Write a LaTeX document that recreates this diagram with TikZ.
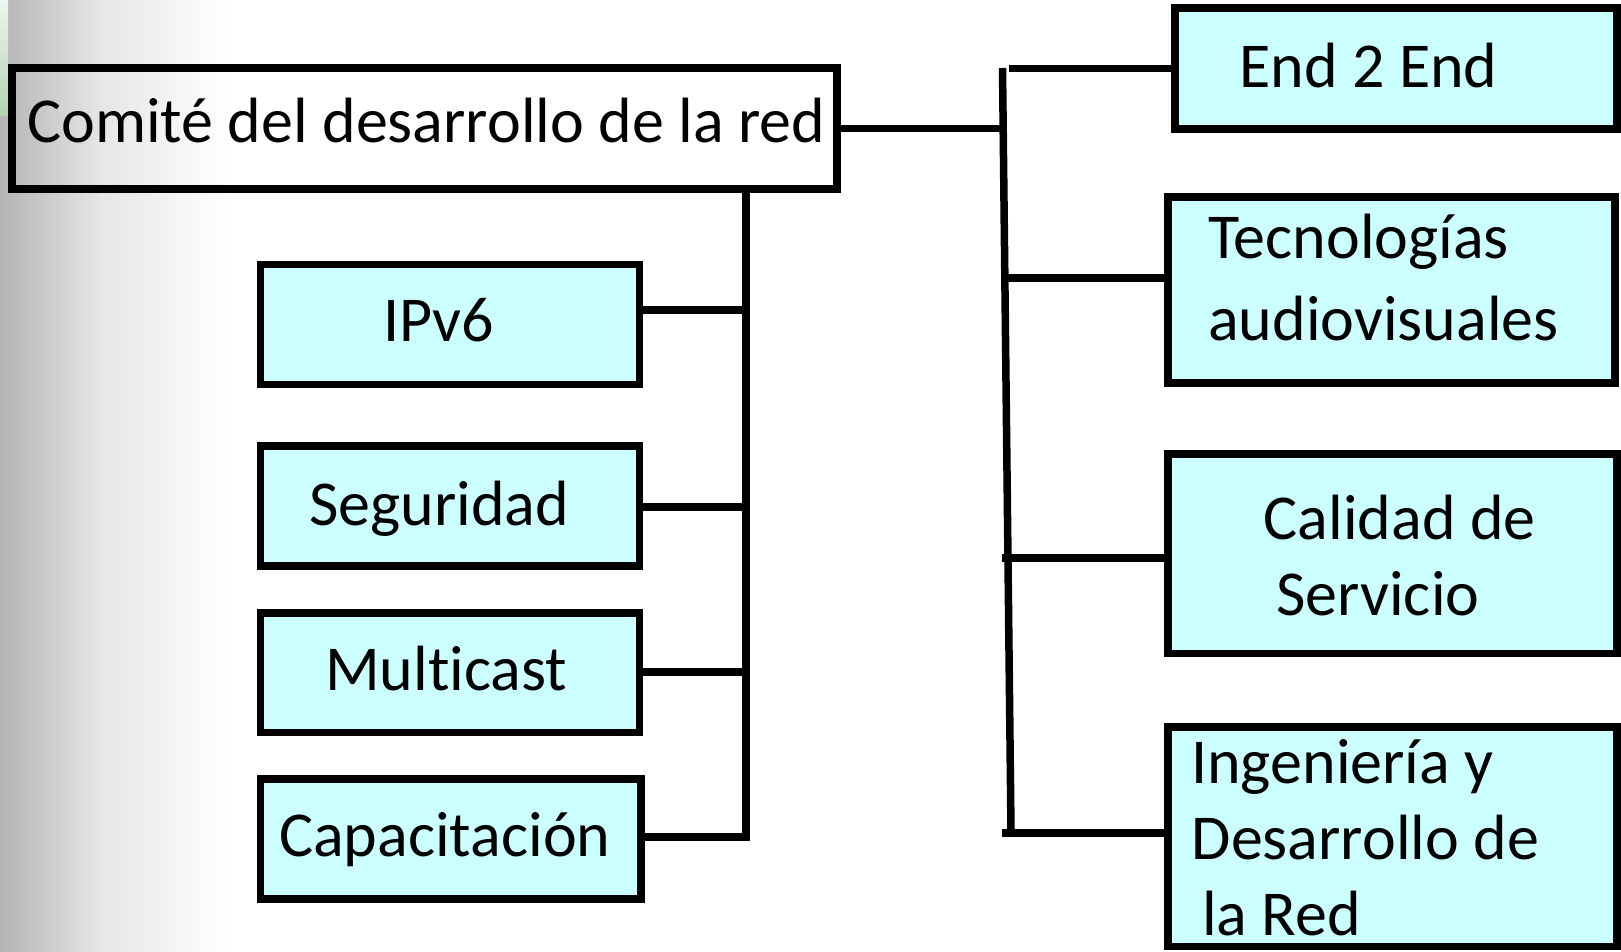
\documentclass[tikz,border=0pt]{standalone}
\usepackage{fontspec}
\setmainfont[Ligatures={NoCommon,NoRare}]{Carlito}
\usetikzlibrary{calc}
\definecolor{boxfill}{RGB}{204,255,255}
\definecolor{bgl}{RGB}{180,180,180}
\definecolor{bgm}{RGB}{230,230,230}
\definecolor{grt}{RGB}{240,246,240}
\definecolor{grb}{RGB}{176,210,176}
\begin{document}
\begin{tikzpicture}[x=1pt,y=-1pt,
  box/.style={draw=black, line width=7.5pt, fill=boxfill, inner sep=0pt},
  plainbox/.style={draw=black, line width=7.5pt, inner sep=0pt},
  lbl/.style={anchor=base west, inner sep=0pt, font=\fontsize{64}{79}\selectfont},
  conn/.style={draw=black, line width=7.5pt}]
\useasboundingbox (0,0) rectangle (1621,952);
% background
\shade[left color=bgl, right color=bgm] (0,0) rectangle (100,952);
\shade[left color=bgm, right color=white] (100,0) rectangle (230,952);
\shade[top color=grt, bottom color=grb] (0,0) rectangle (8,116);

% main box
\node[plainbox, minimum width=825, minimum height=121] (main) at (424.5,128.5) {};
\node[lbl] (maint) at (27,143) {Comité del desarrollo de la red};

% left boxes
\node[box, minimum width=379, minimum height=120] (ipv6) at (450,324.5) {};
\node[box, minimum width=379, minimum height=120] (seg) at (450,506) {};
\node[box, minimum width=379, minimum height=119.5] (mul) at (450,672.75) {};
\node[box, minimum width=380.5, minimum height=120] (cap) at (450.75,839) {};
\node[lbl] (ipv6t) at (383,341.7) {IPv6};
\node[lbl] (segt) at (309,525) {Seguridad};
\node[lbl] (mult) at (325,690) {Multicast};
\node[lbl] (capt) at (279,856.7) {Capacitación};

% right boxes
\node[box, minimum width=442, minimum height=121] (e2e) at (1396,68.5) {};
\node[box, minimum width=447, minimum height=186] (tec) at (1391.5,290) {};
\node[box, minimum width=449, minimum height=199.5] (cal) at (1392.5,553.5) {};
\node[box, minimum width=449, minimum height=219.5] (ing) at (1392.5,836.75) {};
\node[lbl] (e2et) at (1239,87.3) {End 2 End};
\node[lbl] (tect1) at (1208,258) {Tecnologías};
\node[lbl] (tect2) at (1208,340) {audiovisuales};
\node[lbl] (calt1) at (1263.5,539) {Calidad de};
\node[lbl] (calt2) at (1276,615) {Servicio};
\node[lbl] (ingt1) at (1191,783) {Ingeniería y};
\node[lbl] (ingt2) at (1191.5,859.3) {Desarrollo de};
\node[lbl] (ingt3) at (1202,935) {la Red};

% left tree
\coordinate (lvt) at (746,189);
\coordinate (lvb) at (746,841);
\draw[conn] (lvt) -- (lvb);
\coordinate (j1) at (746,310);
\coordinate (j2) at (746,507);
\coordinate (j3) at (746,672);
\coordinate (j4) at (746,837);
\draw[conn] (j1 -| ipv6.east) -- (j1);
\draw[conn] (j2 -| seg.east) -- (j2);
\draw[conn] (j3 -| mul.east) -- (j3);
\draw[conn] (j4 -| cap.east) -- (j4);

% right tree
\coordinate (rt) at (1002.5,68);
\coordinate (rb) at (1011,831);
\draw[conn] (rt) -- (rb);
\draw[conn] (main.east) -- (main.east -| rt);
\coordinate (k1) at (1009,68.5);
\coordinate (k2) at (1004,278);
\coordinate (k3) at (1001.7,558);
\coordinate (k4) at (1001.7,833);
\draw[conn] (k1) -- (k1 -| e2e.west);
\draw[conn] (k2) -- (k2 -| tec.west);
\draw[conn] (k3) -- (k3 -| cal.west);
\draw[conn] (k4) -- (k4 -| ing.west);
\end{tikzpicture}
\end{document}
